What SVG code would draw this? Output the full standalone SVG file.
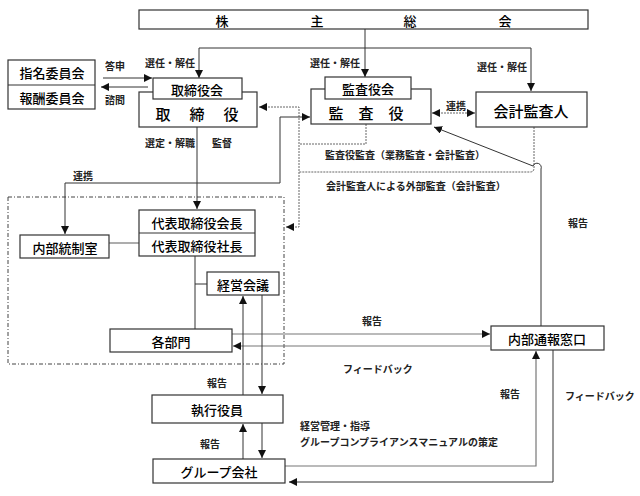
<svg xmlns="http://www.w3.org/2000/svg" width="640" height="496" viewBox="0 0 640 496">
<defs>
<marker id="ah" markerUnits="userSpaceOnUse" markerWidth="9" markerHeight="9" refX="8" refY="4" orient="auto-start-reverse">
<path d="M0,0 L8,4 L0,8 z" fill="#111"/>
</marker>
<style>
.box{fill:#fff;stroke:#333;stroke-width:1.2}
.t{font-family:"Noto Sans CJK JP","Noto Sans",sans-serif;font-size:13px;font-weight:500;fill:#000;text-anchor:middle;dominant-baseline:central}
.big{font-size:15px}
.s{font-family:"Noto Sans CJK JP","Noto Sans",sans-serif;font-size:10px;font-weight:bold;fill:#222;dominant-baseline:central}
.c{fill:none;stroke:#333;stroke-width:1}
.g{fill:none;stroke:#777;stroke-width:1.2}
.d{fill:none;stroke:#666;stroke-width:1;stroke-dasharray:2,1}
.dd{fill:none;stroke:#444;stroke-width:1;stroke-dasharray:4,2,1,2}
.a{marker-end:url(#ah)}
.b{marker-start:url(#ah);marker-end:url(#ah)}
</style>
</defs>
<rect width="640" height="496" fill="#fff"/>

<g id="connectors">
<rect class="dd" x="8" y="197" width="276" height="167"/>
<path class="c a" d="M365,29 V77"/>
<path class="c b" d="M199,78 V48 H531 V91"/>
<path class="c a" d="M103,78 H152"/>
<path class="c a" d="M148,87 H101"/>
<path class="c a" d="M197,127 V209"/>
<path class="d b" d="M432,113 H475"/>
<path class="d" d="M366,124 V144 H299"/>
<path class="d" d="M534,127 V168 Q534,172 530,172 H299"/>
<path class="d b" d="M259,107 H299 V227 H286"/>
<path class="c b" d="M310,117 H280 V183 H65 V234"/>
<path class="c a" d="M541,326 V169 A4,4 0 0 0 533,166 L434,127"/>
<path class="g" d="M109,243 H139"/>
<path class="c" d="M195,256 V329"/>
<path class="c" d="M195,284 H207"/>
<path class="g a" d="M232,334 H490"/>
<path class="g a" d="M490,346 H233"/>
<path class="c a" d="M243,395 V296"/>
<path class="c a" d="M262,295 V394"/>
<path class="c a" d="M243,459 V424"/>
<path class="c a" d="M262,423 V458"/>
<path class="g a" d="M285,466 H536 V351"/>
<path class="c a" d="M553,350 V482 H289"/>
</g>

<g id="shareholders">
<rect class="box" x="139" y="10" width="449" height="19"/>
<text class="t" x="222" y="20">株</text>
<text class="t" x="317" y="20">主</text>
<text class="t" x="410" y="20">総</text>
<text class="t" x="505" y="20">会</text>
</g>

<g id="committees">
<rect class="box" x="8" y="60" width="87" height="49"/>
<path class="c" d="M8,85 H95"/>
<text class="t" x="52" y="72">指名委員会</text>
<text class="t" x="52" y="97">報酬委員会</text>
</g>

<g id="board">
<rect class="box" x="139" y="92" width="118" height="35"/>
<rect class="box" x="153" y="78" width="89" height="21"/>
<text class="t" x="197" y="89">取締役会</text>
<text class="t big" x="163" y="113">取</text>
<text class="t big" x="197" y="113">締</text>
<text class="t big" x="231" y="113">役</text>
</g>

<g id="auditors">
<rect class="box" x="311" y="89" width="120" height="35"/>
<rect class="box" x="325" y="77" width="86" height="22"/>
<text class="t" x="368" y="88">監査役会</text>
<text class="t big" x="336" y="112">監</text>
<text class="t big" x="366" y="112">査</text>
<text class="t big" x="396" y="112">役</text>
</g>

<g id="accounting-auditor">
<rect class="box" x="476" y="92" width="111" height="35"/>
<text class="t big" x="531" y="110">会計監査人</text>
</g>

<g id="representative">
<rect class="box" x="139" y="210" width="116" height="46"/>
<path class="c" d="M139,233 H255"/>
<text class="t" x="197" y="222">代表取締役会長</text>
<text class="t" x="197" y="245">代表取締役社長</text>
</g>

<g id="internal-control">
<rect class="box" x="20" y="235" width="89" height="23"/>
<text class="t" x="65" y="247">内部統制室</text>
</g>

<g id="management-meeting">
<rect class="box" x="207" y="272" width="72" height="23"/>
<text class="t" x="243" y="284">経営会議</text>
</g>

<g id="departments">
<rect class="box" x="110" y="329" width="122" height="23"/>
<text class="t" x="171" y="341">各部門</text>
</g>

<g id="hotline">
<rect class="box" x="491" y="326" width="113" height="24"/>
<text class="t" x="547" y="338">内部通報窓口</text>
</g>

<g id="officers">
<rect class="box" x="152" y="395" width="131" height="28"/>
<text class="t" x="217" y="409">執行役員</text>
</g>

<g id="group">
<rect class="box" x="153" y="459" width="132" height="24"/>
<text class="t" x="219" y="471">グループ会社</text>
</g>

<g id="labels">
<text class="s" x="145" y="62">選任・解任</text>
<text class="s" x="310" y="62">選任・解任</text>
<text class="s" x="477" y="66">選任・解任</text>
<text class="s" x="105" y="65">答申</text>
<text class="s" x="105" y="99">諮問</text>
<text class="s" x="145" y="142">選定・解職</text>
<text class="s" x="212" y="142">監督</text>
<text class="s" x="446" y="105">連携</text>
<text class="s" x="325" y="154">監査役監査（業務監査・会計監査）</text>
<text class="s" x="326" y="185">会計監査人による外部監査（会計監査）</text>
<text class="s" x="73" y="175">連携</text>
<text class="s" x="568" y="222">報告</text>
<text class="s" x="362" y="320">報告</text>
<text class="s" x="343" y="368">フィードバック</text>
<text class="s" x="207" y="382">報告</text>
<text class="s" x="300" y="425">経営管理・指導</text>
<text class="s" x="300" y="441">グループコンプライアンスマニュアルの策定</text>
<text class="s" x="200" y="443">報告</text>
<text class="s" x="500" y="393">報告</text>
<text class="s" x="565" y="395">フィードバック</text>
</g>
</svg>
